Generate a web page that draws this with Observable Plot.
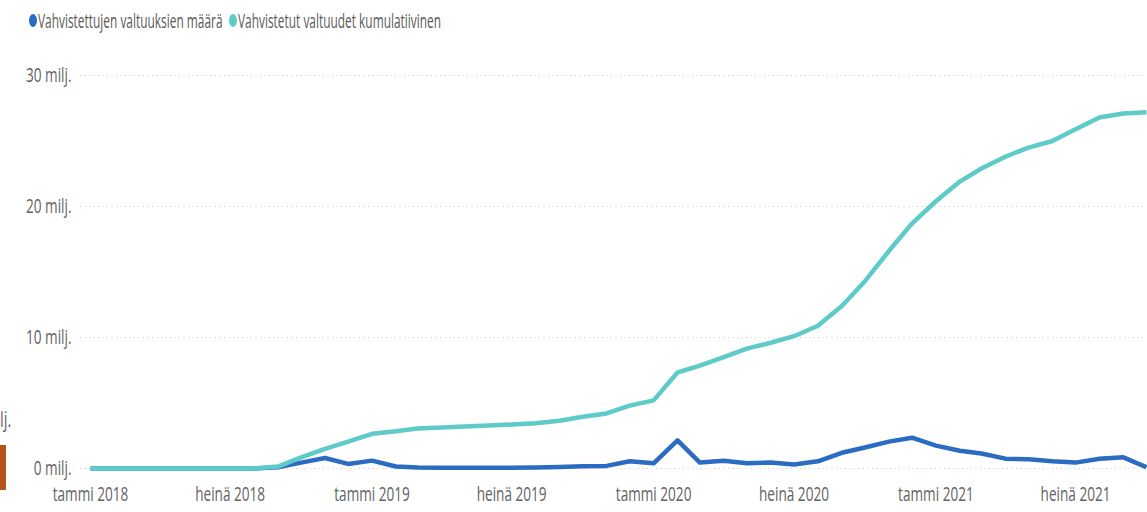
<!DOCTYPE html>
<html>
<head>
<meta charset="utf-8">
<script src="https://cdn.jsdelivr.net/npm/d3@7"></script>
<script src="https://cdn.jsdelivr.net/npm/@observablehq/plot@0.6"></script>
<style>
  html, body { margin: 0; padding: 0; background: #fff; width: 1147px; height: 512px; overflow: hidden; }
  #wrap { position: relative; width: 1147px; height: 512px; font-family: "Open Sans", sans-serif; }
  #legend { position: relative; height: 42px; }
  .item { position: absolute; top: 7px; display: flex; align-items: center; }
  .dot { width: 8px; height: 13px; border-radius: 50%; display: inline-block; }
  .lbl { display: inline-block; font-size: 20px; color: #5a5a5a; transform: scaleX(0.595); transform-origin: left center; white-space: nowrap; margin-left: 1px; }
  #chart { position: absolute; left: 0; top: 42px; }
  .deco-text { position: absolute; left: 0; top: 405px; font-size: 21px; color: #666; transform: scaleX(0.7); transform-origin: left; }
  .deco-bar { position: absolute; left: 0; top: 445px; width: 6px; height: 45px; background: #b5531c; }
</style>
</head>
<body>
<div id="wrap">
  <div id="legend"></div>
  <div id="chart"></div>
  <div class="deco-text">lj.</div>
  <div class="deco-bar"></div>
</div>
<script>
// ---- data ----
const months = [
  "2018-01","2018-02","2018-03","2018-04","2018-05","2018-06","2018-07","2018-08","2018-09","2018-10","2018-11","2018-12",
  "2019-01","2019-02","2019-03","2019-04","2019-05","2019-06","2019-07","2019-08","2019-09","2019-10","2019-11","2019-12",
  "2020-01","2020-02","2020-03","2020-04","2020-05","2020-06","2020-07","2020-08","2020-09","2020-10","2020-11","2020-12",
  "2021-01","2021-02","2021-03","2021-04","2021-05","2021-06","2021-07","2021-08","2021-09","2021-10"
];
// millions
const maara = [
  0,0,0,0,0,0,0,0,0.1,0.45,0.8,0.35,
  0.6,0.15,0.08,0.06,0.05,0.05,0.05,0.08,0.12,0.18,0.2,0.55,
  0.4,2.15,0.45,0.6,0.4,0.45,0.3,0.55,1.2,1.6,2.05,2.35,
  1.75,1.35,1.15,0.75,0.7,0.55,0.45,0.75,0.85,0.1
];
const kumulatiivinen = [
  0,0,0,0,0,0,0,0,0.15,0.85,1.5,2.05,
  2.65,2.85,3.05,3.13,3.2,3.28,3.36,3.45,3.65,3.95,4.2,4.8,
  5.2,7.33,7.85,8.5,9.15,9.6,10.1,10.9,12.4,14.3,16.6,18.7,
  20.4,21.9,22.9,23.8,24.5,25.0,25.9,26.8,27.1,27.2
];
const seriesNames = ["Vahvistettujen valtuuksien määrä", "Vahvistetut valtuudet kumulatiivinen"];
const seriesColors = ["#2b6cc2", "#5ecbc8"];
const yTicks = [0, 10, 20, 30];
const xTickMonths = ["2018-01","2018-07","2019-01","2019-07","2020-01","2020-07","2021-01","2021-07"];
const monthNames = {0: "tammi", 6: "heinä"};
const xDomain = ["2018-01", "2021-10"];

// ---- build ----
const parse = s => new Date(s + "-01T00:00:00Z");
const rows = [];
months.forEach((m, i) => rows.push({date: parse(m), value: maara[i], series: seriesNames[0]}));
months.forEach((m, i) => rows.push({date: parse(m), value: kumulatiivinen[i], series: seriesNames[1]}));

const legend = document.getElementById("legend");
const legendLeft = [29, 229];
seriesNames.forEach((name, i) => {
  const it = document.createElement("div");
  it.className = "item";
  it.style.left = legendLeft[i] + "px";
  it.innerHTML = `<span class="dot" style="background:${seriesColors[i]}"></span><span class="lbl">${name}</span>`;
  legend.appendChild(it);
});

const chart = Plot.plot({
  width: 1147,
  height: 470,
  marginLeft: 90,
  marginRight: 1,
  marginTop: 33,
  marginBottom: 44,
  style: {fontFamily: "Open Sans, sans-serif", fontSize: "20px", color: "#636363", background: "transparent", overflow: "visible"},
  x: {type: "utc", domain: xDomain.map(parse), ticks: xTickMonths.map(parse),
      tickFormat: d => `${monthNames[d.getUTCMonth()]} ${d.getUTCFullYear()}`,
      tickSize: 0, tickPadding: 18, label: null},
  y: {domain: [0, 30], ticks: yTicks, tickFormat: d => `${d} milj.`, tickSize: 0, tickPadding: 19, label: null},
  color: {domain: seriesNames, range: seriesColors},
  marks: [
    Plot.ruleY(yTicks, {stroke: "#c8c8c8", strokeWidth: 1, strokeDasharray: "1,3.5", insetLeft: -10}),
    Plot.line(rows, {x: "date", y: "value", z: "series", stroke: "series", strokeWidth: 4.5, strokeLinejoin: "round", strokeLinecap: "butt"})
  ]
});

// enlarge and squeeze text horizontally to mimic the narrow reference typeface
const SX = 0.68;
chart.querySelectorAll("text").forEach(t => {
  t.style.fontSize = "20px";
  const tr = t.getAttribute("transform");
  if (tr && tr.includes("translate")) {
    t.setAttribute("transform", tr + ` scale(${SX},1)`);
  } else {
    const x = +(t.getAttribute("x") || 0), y = +(t.getAttribute("y") || 0);
    t.setAttribute("transform", `translate(${x},${y}) scale(${SX},1) translate(${-x},${-y})`);
  }
});
document.getElementById("chart").appendChild(chart);
</script>
</body>
</html>
